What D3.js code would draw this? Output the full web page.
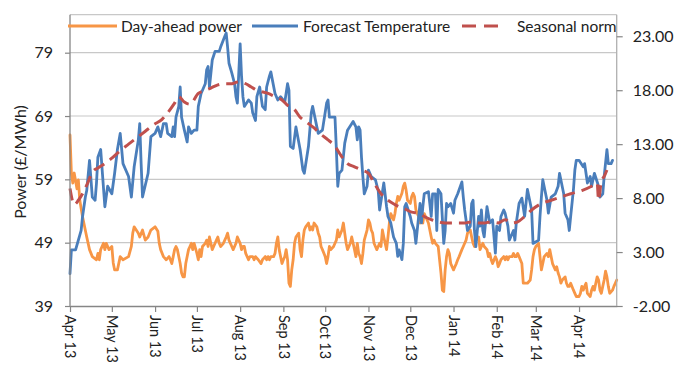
<!DOCTYPE html>
<html><head><meta charset="utf-8">
<script src="https://cdn.jsdelivr.net/npm/d3@7"></script>
<style>
body{margin:0;background:#fff}
svg{display:block}
text{font-family:Lato,"Open Sans",sans-serif;fill:#222}
</style>
</head><body>
<svg id="chart" width="691" height="365"></svg>
<script>
// ---------- data ----------
const startDate = "2013-04-01";
const endDate = "2014-04-28";
const monthTicks = ["2013-04-01","2013-05-01","2013-06-01","2013-07-01","2013-08-01","2013-09-01","2013-10-01","2013-11-01","2013-12-01","2014-01-01","2014-02-01","2014-03-01","2014-04-01"];
const monthLabels = ["Apr 13","May 13","Jun 13","Jul 13","Aug 13","Sep 13","Oct 13","Nov 13","Dec 13","Jan 14","Feb 14","Mar 14","Apr 14"];
const powerTicks = [39,49,59,69,79];
const tempTicks = [-2,3,8,13,18,23];
const tempTickLabels = ["-2.00","3.00","8.00","13.00","18.00","23.00"];
const seriesNames = ["Day-ahead power","Forecast Temperature","Seasonal norm"];
const yTitle = "Power (£/MWh)";

// day offsets from startDate
const powerDays = [0,1,2,3,5,6,7,9,12,14,16,19,20,21,22,24,25,26,28,30,31,32,34,36,38,42,44,45,46,49,50,52,54,56,58,61,63,64,65,67,69,71,72,73,74,75,76,77,79,80,81,82,83,85,86,87,88,89,91,92,93,94,95,97,98,99,100,101,102,104,105,106,107,108,110,111,112,113,114,116,117,118,119,120,122,123,124,125,126,128,129,131,132,133,135,137,138,140,141,142,143,144,146,147,148,149,150,152,153,154,155,156,157,158,159,160,161,162,164,165,166,167,168,169,171,172,173,174,175,177,178,179,180,181,183,184,185,186,187,189,190,191,192,193,195,196,197,198,199,201,202,203,204,205,206,207,208,209,210,211,213,214,215,216,217,218,220,221,222,223,224,225,227,228,229,230,232,233,234,235,236,238,239,240,241,242,244,245,246,247,248,250,251,252,253,254,255,257,258,259,260,261,262,264,265,266,267,268,269,270,271,272,273,275,276,277,278,279,281,282,283,284,285,287,288,289,290,291,293,294,295,296,297,299,300,301,302,303,305,306,307,308,309,311,312,313,314,315,317,318,319,320,321,322,324,325,327,328,330,331,332,333,334,336,337,338,339,340,342,343,344,345,346,348,349,350,351,352,353,355,356,357,358,359,361,362,363,365,366,367,368,369,370,371,373,374,375,376,377,378,379,380,381,382,383,384,385,386,387,389,390,391,392];
const powerValues = [66.0,59.9,58.4,60.0,57.5,58.9,55.7,53.1,49.9,47.9,46.8,46.3,47.3,46.3,47.9,48.9,47.9,48.9,47.9,48.4,45.8,44.7,44.7,46.8,46.3,46.8,48.4,50.5,51.5,50.5,49.9,51.0,49.4,49.9,51.0,51.5,50.8,48.9,47.9,46.8,46.3,46.8,46.3,45.7,46.8,47.9,48.4,47.9,45.7,44.2,43.6,43.6,45.7,47.9,48.4,48.9,47.9,48.9,47.3,46.3,47.9,46.8,48.4,48.9,49.4,48.4,49.9,48.9,47.9,48.9,49.4,49.9,48.9,48.4,48.9,49.4,49.9,50.5,49.4,48.4,47.9,48.4,48.9,49.9,48.9,47.9,48.4,48.4,47.3,46.3,46.8,46.8,46.3,46.8,46.3,45.7,46.3,46.8,46.3,46.8,46.3,46.8,46.8,47.3,48.9,49.9,47.9,45.7,46.3,46.8,47.9,46.3,42.6,42.1,44.7,46.3,48.9,49.9,50.5,47.9,46.8,49.4,51.0,51.5,52.1,51.0,51.5,51.0,52.1,51.5,50.5,49.9,48.4,47.9,46.8,45.7,46.8,48.4,47.9,48.4,48.9,49.4,51.0,49.9,51.0,52.1,50.5,48.9,47.9,48.9,49.9,48.9,47.9,46.8,48.9,47.3,46.8,45.7,47.3,49.4,51.0,52.6,52.1,51.0,50.5,48.9,47.9,48.4,48.9,48.4,51.0,49.9,47.9,49.9,52.1,53.6,52.6,53.6,55.2,56.3,55.7,56.8,57.9,58.4,57.3,55.7,55.2,56.3,56.8,56.3,54.2,53.1,52.1,53.1,52.1,53.6,53.1,52.1,51.0,49.9,48.9,49.4,48.9,48.4,46.3,44.2,41.5,41.3,44.7,46.8,47.9,47.3,45.7,44.7,45.2,45.7,46.3,46.8,47.9,48.4,48.9,49.4,50.5,51.0,49.9,48.9,48.4,49.4,49.9,47.9,48.4,48.9,48.4,47.9,46.8,47.3,46.3,45.7,46.8,46.3,45.2,45.7,46.3,46.8,46.3,46.8,46.3,46.8,46.8,47.3,46.8,46.8,47.3,46.8,45.7,42.6,42.6,42.6,43.1,44.7,46.8,47.9,48.4,48.9,46.8,44.7,45.7,46.8,47.3,46.8,47.9,46.8,45.7,44.7,45.2,44.2,43.6,42.6,43.1,43.6,42.6,42.1,42.1,42.6,41.5,41.0,40.5,40.5,41.0,42.1,41.5,42.1,42.6,41.0,40.5,41.5,42.1,41.5,42.6,43.6,43.1,41.5,41.0,42.1,43.1,44.5,43.6,42.1,41.0,41.5,42.1,42.6,43.1];

const tempDays = [0,1,4,8,9,11,12,14,16,18,19,20,22,25,27,30,32,34,36,38,42,44,46,49,50,51,52,56,58,61,63,65,67,69,70,73,74,75,76,78,79,80,82,84,85,87,89,91,92,94,97,98,99,100,102,104,107,108,111,112,113,114,116,118,119,120,122,123,124,125,128,130,131,133,134,136,138,140,141,143,144,147,149,151,154,156,157,158,160,162,165,167,168,171,173,174,177,178,181,184,185,186,190,191,192,193,195,197,199,202,203,205,206,207,208,209,210,211,213,214,216,219,221,222,225,227,228,230,232,234,235,236,238,239,240,241,244,245,247,248,250,251,252,253,254,257,258,259,260,262,263,264,266,268,269,270,271,273,275,276,278,281,282,283,285,287,288,289,290,291,293,294,295,296,297,299,301,303,305,306,308,309,311,312,314,315,318,319,320,322,324,326,328,331,332,336,337,338,339,342,343,345,348,350,351,354,355,357,358,359,361,362,363,365,368,369,370,371,373,374,376,379,380,382,383,385,386,388,389];
const tempValues = [1.0,3.2,3.2,5.0,6.3,8.1,8.7,11.5,8.1,7.8,9.4,11.8,12.5,7.2,9.1,8.4,10.3,12.5,14.0,11.2,10.0,8.1,10.9,13.4,14.9,11.2,8.1,10.3,13.7,14.0,14.6,13.7,14.9,14.9,14.0,13.7,14.6,13.7,15.5,16.5,18.3,15.5,14.3,13.2,14.6,14.0,14.3,14.3,16.5,17.7,18.6,19.9,20.2,18.3,20.8,21.6,21.6,22.0,23.0,23.3,22.0,20.5,19.6,18.6,17.4,16.8,22.3,19.3,17.4,16.5,17.1,16.8,15.9,15.2,17.4,18.3,16.5,16.2,18.3,19.3,19.7,17.7,17.1,17.4,16.9,18.6,18.0,12.8,12.6,14.6,12.5,10.6,10.3,12.8,15.9,16.5,14.6,14.0,14.3,16.8,17.1,15.5,15.5,12.5,9.1,10.3,10.6,13.1,14.3,14.9,15.1,14.6,13.4,14.6,14.3,11.8,10.0,8.4,9.1,10.6,10.0,9.7,8.7,6.9,9.4,7.2,6.3,5.7,4.4,3.8,2.6,3.2,2.3,3.8,7.2,7.5,6.3,5.7,5.0,3.8,6.3,7.5,5.7,7.2,8.4,8.6,7.5,6.3,8.4,8.4,5.0,8.8,8.4,3.8,5.0,7.5,7.2,7.5,6.6,7.8,8.4,9.5,8.1,6.9,5.0,5.4,7.5,7.8,5.0,3.5,6.3,5.4,6.9,5.0,4.4,7.2,5.7,6.0,2.9,5.4,5.0,6.3,6.9,6.6,5.4,4.1,5.0,4.1,5.7,7.5,8.0,6.3,8.8,6.9,3.8,4.1,6.3,8.1,9.7,7.8,6.6,8.1,8.4,9.1,10.3,8.4,6.6,6.0,5.0,6.3,8.8,10.6,11.5,11.5,10.9,11.2,10.3,9.4,10.0,9.1,10.3,9.1,8.1,8.4,10.0,12.5,11.2,11.2,11.5];

const normDays = [0,3,6,9,13,16,20,25,30,36,42,48,54,60,66,70,75,78,82,86,92,97,101,106,111,116,121,126,130,134,142,147,152,156,161,165,169,175,179,185,190,194,199,204,209,214,218,223,228,233,236,240,245,250,254,259,264,269,274,278,283,288,293,297,302,307,312,317,321,326,331,338,345,352,359,367,374,378,379,381,383,385];
const normValues = [8.9,7.4,7.8,8.4,9.5,10.4,10.8,11.2,11.7,12.4,13.0,13.6,14.2,14.8,15.3,15.9,16.8,17.4,16.9,16.7,17.7,18.0,18.2,18.5,18.6,18.6,18.8,18.6,18.3,18.0,17.7,17.4,17.1,16.6,16.2,15.5,15.1,14.5,14.0,13.4,12.8,12.0,11.2,10.9,10.6,10.3,9.4,8.4,7.8,7.4,7.2,7.0,6.7,6.6,6.3,6.0,5.8,5.7,5.7,5.7,5.7,5.8,5.7,5.7,5.8,5.7,6.0,5.7,5.8,6.3,6.9,7.5,7.8,8.1,8.4,8.7,9.1,9.4,7.8,9.6,10.0,10.6];

if (powerDays.length !== powerValues.length) throw new Error("power " + powerDays.length + " vs " + powerValues.length);
if (tempDays.length !== tempValues.length) throw new Error("temp " + tempDays.length + " vs " + tempValues.length);
if (normDays.length !== normValues.length) throw new Error("norm " + normDays.length + " vs " + normValues.length);

// ---------- chart ----------
const colors = {power:"#F79646", temp:"#4A7EBB", norm:"#C0504D"};
const plot = {left:70, right:616.7, top:14.7, bottom:306};
const parse = d3.utcParse("%Y-%m-%d");
const t0 = parse(startDate);
const dayToDate = d => d3.utcDay.offset(t0, d);

const svg = d3.select("#chart");
const x = d3.scaleUtc().domain([t0, parse(endDate)]).range([plot.left, plot.right]);
const yL = d3.scaleLinear().domain([39, 85]).range([plot.bottom, plot.top]);
const yR = d3.scaleLinear().domain([-2, 25]).range([plot.bottom, plot.top]);

// gridlines
svg.append("g").selectAll("line").data(powerTicks.slice(1)).join("line")
  .attr("x1", plot.left).attr("x2", plot.right)
  .attr("y1", d => yL(d)).attr("y2", d => yL(d))
  .attr("stroke", "#c8c8c8").attr("stroke-width", 1.2);
// top border
svg.append("line").attr("x1", plot.left).attr("x2", plot.right)
  .attr("y1", plot.top).attr("y2", plot.top)
  .attr("stroke", "#c8c8c8").attr("stroke-width", 1.2);

// lines
const mk = (days, vals) => days.map((d, i) => ({date: dayToDate(d), v: vals[i]}));
const lineL = d3.line().x(d => x(d.date)).y(d => yL(d.v)).curve(d3.curveLinear);
const lineR = d3.line().x(d => x(d.date)).y(d => yR(d.v)).curve(d3.curveLinear);
const lineRs = d3.line().x(d => x(d.date)).y(d => yR(d.v)).curve(d3.curveMonotoneX);

svg.append("path").datum(mk(powerDays, powerValues)).attr("d", lineL)
  .attr("fill", "none").attr("stroke", colors.power).attr("stroke-width", 2.8)
  .attr("stroke-linejoin", "round").attr("stroke-linecap", "round");
svg.append("path").datum(mk(tempDays, tempValues)).attr("d", lineR)
  .attr("fill", "none").attr("stroke", colors.temp).attr("stroke-width", 2.8)
  .attr("stroke-linejoin", "round").attr("stroke-linecap", "round");
svg.append("path").datum(mk(normDays, normValues)).attr("d", lineRs)
  .attr("fill", "none").attr("stroke", colors.norm).attr("stroke-width", 3)
  .attr("stroke-dasharray", "12,7");

// axes
const axisColor = "#868686";
const gx = svg.append("g").attr("transform", `translate(0,${plot.bottom})`)
  .call(d3.axisBottom(x).tickValues(monthTicks.map(parse))
    .tickFormat((d, i) => monthLabels[i]).tickSize(6).tickSizeOuter(0));
gx.selectAll("text")
  .attr("transform", "rotate(90)")
  .attr("x", 9).attr("y", 0).attr("dy", "0.36em")
  .style("text-anchor", "start").style("font-size", "14.5px");

const gl = svg.append("g").attr("transform", `translate(${plot.left},0)`)
  .call(d3.axisLeft(yL).tickValues(powerTicks).tickSize(5).tickPadding(12).tickSizeOuter(0));
gl.selectAll("text").style("font-size", "16px");

const gr = svg.append("g").attr("transform", `translate(${plot.right},0)`)
  .call(d3.axisRight(yR).tickValues(tempTicks)
    .tickFormat((d, i) => tempTickLabels[i]).tickSize(6).tickPadding(10).tickSizeOuter(0));
gr.selectAll("text").style("font-size", "16px");

[gx, gl, gr].forEach(g => {
  g.select(".domain").attr("stroke", axisColor).attr("stroke-width", 1.3);
  g.selectAll(".tick line").attr("stroke", axisColor).attr("stroke-width", 1.2);
  g.selectAll("text").attr("fill", "#222").style("font-family", "Lato, 'Open Sans', sans-serif");
});
gl.select(".domain").attr("d", `M0,${plot.top}V${plot.bottom}`);
gr.select(".domain").attr("d", `M0,${plot.top}V${plot.bottom}`).attr("stroke", "#b0b0b0");

// y title
svg.append("text")
  .attr("transform", `translate(26,162) rotate(-90)`)
  .attr("text-anchor", "middle")
  .style("font-size", "16px")
  .text(yTitle);

// legend
const legend = [
  {name: seriesNames[0], color: colors.power, x1: 68, x2: 117, tx: 121, dash: null},
  {name: seriesNames[1], color: colors.temp, x1: 252, x2: 298, tx: 303, dash: null},
  {name: seriesNames[2], color: colors.norm, x1: 462, x2: 499, tx: 517, dash: "14,8"}
];
const lg = svg.append("g");
legend.forEach(l => {
  lg.append("line").attr("x1", l.x1).attr("x2", l.x2).attr("y1", 26).attr("y2", 26)
    .attr("stroke", l.color).attr("stroke-width", 3)
    .attr("stroke-dasharray", l.dash);
  lg.append("text").attr("x", l.tx).attr("y", 31.5)
    .style("font-size", "15.5px").text(l.name);
});
</script>
</body></html>
